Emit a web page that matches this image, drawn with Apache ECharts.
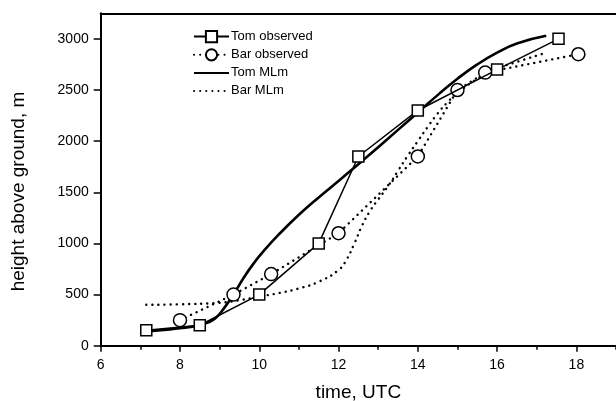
<!DOCTYPE html>
<html>
<head>
<meta charset="utf-8">
<script src="https://cdn.jsdelivr.net/npm/echarts@6/dist/echarts.min.js"></script>
<style>
html,body{margin:0;padding:0;background:#fff;}
#c{width:616px;height:401px;}
</style>
</head>
<body>
<div id="c"></div>
<script>
// ---- data ----
var seriesNames = ['Tom observed', 'Bar observed', 'Tom MLm', 'Bar MLm'];

var tomObsX = [7.15, 8.5, 10, 11.5, 12.5, 14, 16, 17.55];
var tomObsY = [150, 200, 500, 1000, 1850, 2300, 2700, 3000];

var barObsX = [8, 9.35, 10.3, 12, 14, 15, 15.7, 18.05];
var barObsY = [250, 500, 700, 1100, 1850, 2500, 2670, 2850];

var tomMlmX = [7.15, 7.6, 8, 8.5, 8.7, 8.9, 9.1, 9.35, 9.6, 9.85, 10.1, 10.5, 11, 11.5, 12, 12.5, 13, 13.5, 14, 14.5, 15, 15.5, 16, 16.5, 17.24];
var tomMlmY = [140, 155, 170, 200, 225, 270, 360, 500, 660, 800, 920, 1090, 1280, 1450, 1610, 1775, 1940, 2110, 2280, 2450, 2610, 2750, 2865, 2955, 3030];

var barMlmX = [7.15, 8, 9, 9.5, 10, 10.5, 11, 11.5, 12, 12.2, 12.4, 12.6, 12.8, 13, 13.25, 13.5, 13.75, 14, 14.25, 14.5, 14.75, 15, 15.5, 16, 16.5, 17.2];
var barMlmY = [400, 405, 420, 445, 480, 515, 560, 625, 740, 840, 1000, 1180, 1320, 1430, 1560, 1710, 1860, 2000, 2140, 2270, 2380, 2470, 2610, 2710, 2775, 2860];

var xTickLabels = [6, 8, 10, 12, 14, 16, 18];
var yTickLabels = [0, 500, 1000, 1500, 2000, 2500, 3000];

function pairs(xs, ys) { return xs.map(function (x, i) { return [x, ys[i]]; }); }

var FONT = 'Liberation Sans, Arial, sans-serif';
var chart = echarts.init(document.getElementById('c'), null, {renderer: 'canvas'});

var dotted = {color: '#000', width: 2.4, type: [0.1, 6], cap: 'round'};
var noSymbol = {color: 'rgba(0,0,0,0)', borderColor: 'rgba(0,0,0,0)', borderWidth: 0};

chart.setOption({
  backgroundColor: '#fff',
  animation: false,
  textStyle: {fontFamily: FONT, color: '#000'},
  grid: [
    {left: 100.7, right: 0, top: 13.3, bottom: 55.3, show: false, containLabel: false, outerBoundsMode: 'none'},
    {left: 100.7, width: 475.7, top: 38.9, bottom: 55.3, show: false, containLabel: false, outerBoundsMode: 'none'}
  ],
  legend: {
    orient: 'vertical', left: 193, top: 30, padding: 0,
    itemWidth: 35, itemHeight: 14, itemGap: 5,
    data: [
      {name: seriesNames[0]},
      {name: seriesNames[1]},
      {name: seriesNames[2], itemStyle: noSymbol},
      {name: seriesNames[3], itemStyle: noSymbol}
    ],
    textStyle: {fontFamily: FONT, fontSize: 13, color: '#000', padding: [0, 0, 0, -3]}
  },
  xAxis: [
    {
      type: 'value', gridIndex: 0, min: 6, max: 19, interval: 1,
      axisLine: {show: true, lineStyle: {color: '#000', width: 2}},
      axisTick: {show: true, length: 4, lineStyle: {color: '#000', width: 1.5}},
      axisLabel: {show: false}, splitLine: {show: false},
      name: 'time, UTC', nameLocation: 'middle', nameGap: 38,
      nameTextStyle: {fontFamily: FONT, fontSize: 19, color: '#000'}
    },
    {
      type: 'value', gridIndex: 0, position: 'top', min: 6, max: 19,
      axisLine: {show: true, lineStyle: {color: '#000', width: 2}},
      axisTick: {show: false}, axisLabel: {show: false}, splitLine: {show: false}
    },
    {
      type: 'value', gridIndex: 1, min: 6, max: 18, interval: 2,
      axisLine: {show: false},
      axisTick: {show: true, length: 6, lineStyle: {color: '#000', width: 1.5}},
      axisLabel: {show: true, margin: 12, fontFamily: FONT, fontSize: 14, color: '#000',
        formatter: function (v) { return xTickLabels.indexOf(v) >= 0 ? String(v) : ''; }},
      splitLine: {show: false}
    }
  ],
  yAxis: [
    {
      type: 'value', gridIndex: 0, min: 0, max: 3250,
      axisLine: {show: true, lineStyle: {color: '#000', width: 2}},
      axisTick: {show: false}, axisLabel: {show: false}, splitLine: {show: false},
      name: 'height above ground, m', nameLocation: 'middle', nameGap: 72,
      nameTextStyle: {fontFamily: FONT, fontSize: 19, color: '#000', padding: [0, 24, 0, 0]}
    },
    {
      type: 'value', gridIndex: 1, min: 0, max: 3000, interval: 500,
      axisLine: {show: false},
      axisTick: {show: true, length: 7, lineStyle: {color: '#000', width: 1.5}},
      axisLabel: {show: true, margin: 12, fontFamily: FONT, fontSize: 14, color: '#000',
        formatter: function (v) { return yTickLabels.indexOf(v) >= 0 ? String(v) : ''; }},
      splitLine: {show: false}
    }
  ],
  series: [
    {
      name: 'Tom MLm', type: 'line', xAxisIndex: 0, yAxisIndex: 0,
      data: pairs(tomMlmX, tomMlmY), smooth: 0.5,
      symbol: 'none', lineStyle: {color: '#000', width: 2.6}, itemStyle: {color: '#000'}, z: 2
    },
    {
      name: 'Bar MLm', type: 'line', xAxisIndex: 0, yAxisIndex: 0,
      data: pairs(barMlmX, barMlmY), smooth: 0.5,
      symbol: 'none', lineStyle: dotted, itemStyle: {color: '#000'}, z: 2
    },
    {
      name: 'Tom observed', type: 'line', xAxisIndex: 0, yAxisIndex: 0,
      data: pairs(tomObsX, tomObsY),
      symbol: 'rect', symbolSize: 11, showAllSymbol: true,
      lineStyle: {color: '#000', width: 1.5},
      itemStyle: {color: '#fff', borderColor: '#000', borderWidth: 1.5}, z: 4
    },
    {
      name: 'Bar observed', type: 'line', xAxisIndex: 0, yAxisIndex: 0,
      data: pairs(barObsX, barObsY),
      symbol: 'circle', symbolSize: 13, showAllSymbol: true,
      lineStyle: dotted,
      itemStyle: {color: '#fff', borderColor: '#000', borderWidth: 1.5}, z: 3
    }
  ]
});
</script>
</body>
</html>
